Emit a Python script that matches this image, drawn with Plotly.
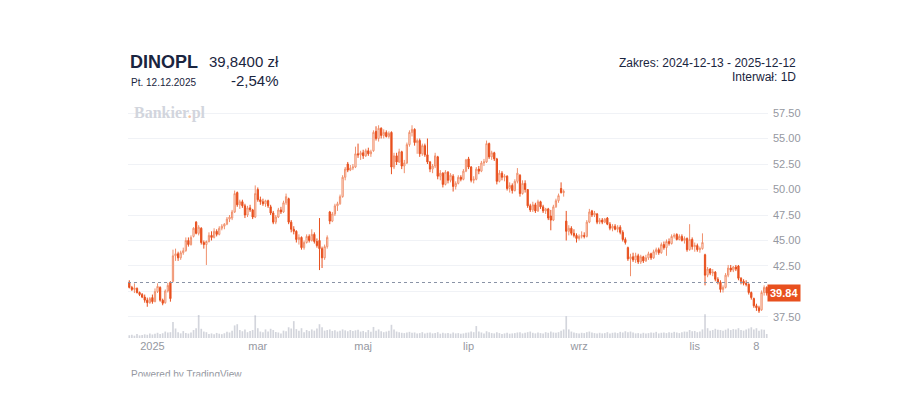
import pandas as pd
import plotly.graph_objects as go

# --- data -------------------------------------------------------------
ticker = "DINOPL"
last_price = 39.84
prev_close = 40.88
change_pct = "-2,54%"

holidays = ["2024-12-24", "2024-12-25", "2024-12-26", "2024-12-31",
            "2025-01-01", "2025-01-06", "2025-04-18", "2025-04-21",
            "2025-05-01", "2025-06-19", "2025-08-15", "2025-11-11"]
days = pd.bdate_range("2024-12-13", "2025-12-12", freq="C", holidays=holidays)
dates = [d.strftime("%Y-%m-%d") for d in days]

open_ = [
    40.90, 40.40, 40.20, 40.30, 39.90, 39.70, 39.45, 39.15, 38.90,
    39.40, 39.00, 40.00, 40.40, 39.15, 38.90, 40.05, 40.90, 41.00, 43.50,
    43.70, 43.30, 43.80, 44.00, 45.00, 44.60, 45.40, 46.80, 45.70, 46.20, 44.80,
    44.60, 44.90, 45.50, 45.30, 45.90, 45.60, 46.20, 46.40, 46.60, 47.10,
    47.20, 47.80, 49.70, 48.50, 48.80, 48.40, 47.50, 48.20, 48.00, 47.30,
    50.00, 49.00, 48.80, 48.60, 48.90, 48.30, 47.70, 46.80, 47.30, 48.00,
    47.80, 48.70, 49.10, 46.80, 46.10, 45.90, 45.10, 45.30, 44.30, 44.80, 45.40,
    45.00, 45.60, 44.90, 45.00, 44.20, 43.30, 44.40, 47.80, 46.90, 47.60,
    48.40, 48.60, 49.30, 51.20, 52.50, 51.90, 52.10, 52.20, 53.50, 53.40,
    53.60, 53.30, 53.80, 53.50, 53.80, 55.70, 55.00, 56.00, 55.30, 55.60,
    55.20, 55.60, 52.20, 53.30, 52.70, 53.70, 52.30, 52.60, 54.40, 55.60, 55.90,
    54.60, 54.80, 53.50, 54.30, 53.40, 52.70, 52.00, 52.30, 53.20, 51.30,
    51.60, 50.50, 51.70, 50.90, 51.30, 50.30, 50.60, 51.20, 51.00, 51.80,
    53.00, 52.20, 50.90, 51.00, 52.00, 51.80, 52.60, 52.70, 54.50, 53.20, 53.60,
    53.00, 50.80, 51.60, 51.20, 51.30, 50.10, 50.40, 49.90, 50.80, 51.40, 49.60,
    50.60, 50.00, 48.40, 48.00, 48.50, 47.90, 48.80, 48.30, 47.90, 48.10,
    47.40, 47.00, 48.30, 48.90, 50.10, 49.70, 46.90, 45.90, 46.20, 45.70, 45.50,
    45.20, 45.40, 45.50, 45.40, 46.80, 47.90, 47.50, 47.60, 46.80, 47.00, 46.80,
    47.20, 46.60, 46.20, 46.40, 46.10, 46.30, 45.80, 45.10, 44.30, 43.20, 43.40,
    43.10, 43.50, 42.90, 43.40, 43.00, 43.30, 43.70, 43.30, 43.90, 44.10, 43.80,
    44.60, 44.30, 44.90, 44.70, 45.40, 45.60, 45.10, 45.40, 45.00, 45.20, 44.10,
    45.10, 44.40, 44.50, 44.10, 44.20, 43.60, 41.60, 42.20, 41.80, 41.90, 41.20,
    40.90, 40.20, 40.40, 41.60, 42.30, 42.10, 42.40, 42.50, 41.30,
    41.00, 40.80, 40.70, 39.90, 39.30, 38.60, 38.40, 38.20, 39.90, 40.40,
]
high = [
    41.10, 40.55, 40.80, 40.40, 40.00, 39.85, 39.70, 39.40, 39.45,
    39.70, 40.30, 40.80, 40.50, 39.30, 40.20, 40.85, 41.00, 44.10, 44.20,
    43.90, 44.00, 44.30, 45.30, 45.30, 45.50, 46.30, 46.90, 46.50, 46.30, 45.00,
    45.00, 45.80, 45.90, 46.20, 46.10, 46.40, 46.60, 46.70, 47.30, 47.50,
    48.00, 49.90, 49.80, 49.00, 49.00, 48.60, 48.40, 48.50, 48.10, 50.40,
    50.20, 49.30, 49.10, 49.00, 49.00, 48.50, 47.90, 47.50, 48.20, 48.30,
    48.90, 49.60, 49.20, 47.00, 46.40, 46.00, 45.60, 45.40, 45.00, 45.60, 45.60,
    46.10, 45.80, 45.20, 47.20, 44.40, 44.60, 45.50, 47.90, 47.80, 48.60,
    48.80, 49.50, 51.40, 52.20, 52.70, 52.40, 52.50, 54.20, 54.50, 53.80,
    53.90, 54.00, 54.10, 53.90, 55.80, 56.20, 56.30, 56.10, 55.90, 55.80,
    55.70, 55.70, 53.60, 53.60, 54.00, 53.80, 52.90, 54.60, 55.80, 56.30, 56.00,
    55.00, 55.00, 54.50, 54.50, 55.00, 52.80, 52.50, 53.60, 53.30, 51.90,
    51.70, 51.90, 51.80, 51.60, 51.50, 50.80, 51.40, 51.40, 52.00, 53.00,
    53.20, 52.30, 51.30, 52.20, 52.30, 52.80, 53.00, 54.80, 54.60, 53.80, 53.70,
    53.10, 51.90, 51.80, 51.50, 51.40, 50.70, 50.60, 51.00, 52.10, 51.50, 50.90,
    50.90, 50.00, 48.60, 48.80, 48.70, 49.00, 48.90, 48.50, 48.20, 48.20,
    48.00, 48.50, 49.10, 49.60, 50.70, 50.00, 47.90, 46.50, 46.40, 46.10, 45.70,
    45.60, 45.90, 45.80, 47.00, 48.10, 48.00, 47.90, 47.70, 47.20, 47.20, 47.20,
    47.30, 46.80, 46.60, 46.60, 46.50, 46.50, 46.00, 45.30, 44.40, 43.70, 43.80,
    43.80, 43.70, 43.60, 43.50, 43.60, 43.90, 43.80, 44.10, 44.30, 44.30, 44.80,
    44.90, 45.10, 45.20, 45.60, 45.70, 45.70, 45.60, 45.60, 45.40, 45.30, 46.60,
    45.30, 44.80, 44.70, 44.40, 45.70, 43.70, 42.40, 42.30, 42.20, 42.00,
    41.40, 41.10, 40.60, 41.80, 42.60, 42.60, 42.50, 42.60, 42.60, 41.40,
    41.20, 41.10, 40.80, 40.00, 39.40, 38.80, 38.60, 40.10, 40.60, 40.50,
]
low = [
    40.30, 40.05, 39.85, 39.80, 39.55, 39.35, 38.90, 38.50, 38.80,
    38.80, 38.95, 39.85, 39.00, 38.65, 38.80, 39.90, 39.00, 40.90, 43.00,
    43.00, 43.10, 43.60, 43.90, 44.40, 44.50, 45.30, 45.60, 45.50, 44.60, 44.20,
    42.60, 44.80, 45.00, 45.20, 45.40, 45.50, 46.00, 46.10, 46.50, 46.80,
    47.00, 47.70, 48.30, 48.10, 48.20, 47.20, 47.30, 47.80, 47.10, 47.20,
    48.80, 48.50, 48.40, 48.30, 48.20, 47.50, 46.60, 46.60, 47.20, 47.60,
    47.70, 48.50, 46.60, 45.80, 45.60, 44.80, 44.60, 44.10, 44.10, 44.70, 44.80,
    44.90, 44.70, 44.30, 42.10, 42.30, 43.10, 44.20, 46.60, 46.80, 47.40,
    47.90, 48.50, 49.20, 50.90, 51.70, 51.80, 51.90, 52.10, 53.10, 52.90,
    53.00, 53.20, 53.30, 53.20, 53.70, 54.80, 54.70, 55.00, 55.00, 55.10,
    55.00, 51.50, 52.00, 52.40, 52.60, 52.00, 51.60, 52.50, 54.20, 55.20, 54.30,
    53.50, 53.20, 53.30, 53.20, 52.50, 51.70, 51.60, 52.10, 51.00, 50.90,
    50.20, 50.40, 50.60, 50.70, 49.80, 50.00, 50.50, 50.80, 50.90, 51.70,
    52.00, 50.70, 50.60, 50.90, 51.50, 51.70, 52.30, 52.60, 53.00, 52.90, 52.80,
    50.50, 50.70, 50.90, 50.80, 49.90, 49.70, 49.60, 49.80, 50.60, 49.30, 49.50,
    49.70, 48.20, 47.80, 47.80, 47.70, 47.80, 48.10, 47.70, 47.60, 47.00,
    46.00, 46.90, 48.20, 48.70, 49.60, 49.30, 45.00, 45.50, 45.50, 45.30, 44.80,
    45.00, 45.20, 45.20, 45.30, 46.70, 47.30, 47.30, 46.60, 46.60, 46.60, 46.70,
    46.50, 46.00, 45.90, 46.00, 45.80, 45.60, 44.90, 44.60, 43.00, 41.50, 42.90,
    42.80, 42.70, 42.70, 42.80, 42.90, 43.10, 43.10, 43.20, 43.60, 43.60, 43.70,
    44.10, 43.50, 44.50, 44.60, 45.20, 45.00, 45.00, 44.90, 44.70, 43.90, 44.00,
    44.10, 43.90, 43.90, 43.80, 44.10, 40.60, 41.40, 41.60, 41.50, 41.00,
    40.70, 39.90, 39.90, 40.30, 41.40, 41.90, 41.90, 42.00, 41.10, 40.70,
    40.60, 40.50, 39.70, 39.20, 38.40, 38.10, 37.90, 38.10, 39.60, 39.60,
]
close = [
    40.40, 40.20, 40.35, 39.90, 39.70, 39.45, 39.15, 38.90, 39.30,
    39.00, 40.00, 40.50, 39.15, 38.85, 40.05, 40.60, 39.30, 43.50, 43.70,
    43.30, 43.80, 44.00, 45.00, 44.60, 45.30, 46.20, 45.70, 46.30, 44.80, 44.60,
    44.90, 45.50, 45.30, 45.90, 45.60, 46.20, 46.40, 46.60, 47.10, 47.30,
    47.80, 49.60, 48.50, 48.80, 48.40, 47.50, 48.20, 48.00, 47.30, 49.60,
    49.00, 48.80, 48.60, 48.90, 48.40, 47.70, 46.80, 47.30, 48.00, 47.80,
    48.70, 49.30, 46.80, 46.10, 45.90, 45.10, 45.30, 44.30, 44.80, 45.40, 45.00,
    45.60, 44.90, 44.50, 44.20, 43.30, 44.40, 45.30, 46.90, 47.60, 48.40,
    48.60, 49.30, 51.20, 52.00, 51.90, 52.10, 52.20, 53.50, 53.40, 53.60,
    53.30, 53.80, 53.50, 53.70, 55.60, 55.00, 56.00, 55.30, 55.60, 55.20,
    55.50, 52.20, 53.30, 52.70, 53.70, 52.30, 52.60, 54.40, 55.60, 55.90, 54.60,
    54.80, 53.50, 54.30, 53.40, 52.70, 52.00, 52.30, 53.30, 51.30, 51.60,
    50.50, 51.70, 50.90, 51.40, 50.30, 50.60, 51.20, 51.00, 51.80, 52.90,
    52.20, 50.90, 51.00, 52.00, 51.80, 52.60, 52.70, 54.50, 53.20, 53.60, 53.00,
    50.80, 51.60, 51.20, 51.30, 50.10, 50.40, 49.90, 50.80, 51.60, 49.60, 50.60,
    50.00, 48.40, 48.00, 48.50, 47.90, 48.80, 48.30, 47.90, 48.10, 47.20,
    47.00, 48.30, 48.90, 49.40, 49.70, 49.80, 45.90, 46.20, 45.70, 45.50, 45.20,
    45.40, 45.50, 45.40, 46.80, 47.80, 47.50, 47.70, 46.80, 47.00, 46.80, 47.10,
    46.60, 46.20, 46.40, 46.10, 46.30, 45.80, 45.10, 44.80, 43.20, 43.40, 43.10,
    43.50, 42.90, 43.40, 43.00, 43.30, 43.70, 43.30, 43.90, 44.10, 43.80, 44.60,
    44.30, 44.90, 44.70, 45.40, 45.50, 45.10, 45.40, 45.00, 45.20, 44.10, 45.10,
    44.40, 44.50, 44.10, 44.20, 44.80, 41.60, 42.20, 41.80, 41.90, 41.20,
    40.90, 40.20, 40.40, 41.60, 42.30, 42.10, 42.40, 42.20, 41.30, 41.00,
    40.80, 40.70, 39.90, 39.40, 38.60, 38.40, 38.10, 39.90, 40.40, 39.84,
]
volume = [
    180, 220, 150, 260, 170, 190, 240, 210, 300,
    230, 280, 340, 260, 310, 420, 360, 380, 1050, 620,
    380, 300, 450, 330, 290, 360, 520, 640, 1500, 600, 420,
    380, 260, 300, 240, 330, 280, 250, 310, 400, 360,
    470, 820, 900, 520, 440, 560, 380, 460, 520, 1480,
    640, 420, 380, 560, 430, 600, 520, 390, 360, 300,
    480, 440, 700, 620, 1100, 580, 480, 640, 380, 520, 450,
    560, 480, 620, 900, 700, 480, 520, 560, 460, 500,
    420, 480, 560, 500, 440, 520, 460, 500, 540, 420,
    460, 380, 520, 400, 720, 480, 560, 440, 380, 420,
    480, 860, 560, 420, 380, 340, 320, 360, 400, 340, 360,
    300, 320, 380, 300, 340, 360, 300, 320, 380, 280,
    340, 300, 320, 280, 360, 300, 320, 280, 300, 340,
    360, 420, 380, 780, 420, 360, 300, 440, 380, 320, 300,
    380, 320, 260, 300, 340, 280, 300, 320, 360, 380, 300,
    340, 380, 420, 340, 300, 360, 320, 300, 380, 340,
    420, 360, 340, 380, 480, 560, 1420, 560, 420, 360, 320,
    300, 340, 320, 380, 420, 360, 320, 300, 340, 300, 320,
    380, 300, 340, 360, 320, 400, 360, 440, 380, 420, 360,
    300, 320, 280, 340, 300, 320, 360, 340, 400, 300, 340,
    360, 320, 380, 340, 400, 360, 320, 380, 420, 400, 520,
    440, 460, 380, 420, 560, 1550, 640, 480, 520, 600,
    540, 520, 480, 540, 620, 520, 580, 560, 640, 520,
    480, 560, 620, 700, 560, 640, 480, 560, 540, 260,
]

tick_dates = ["2025-01-02", "2025-03-03", "2025-05-02", "2025-07-01",
              "2025-09-01", "2025-11-03", "2025-12-08"]
tick_labels = ["2025", "mar", "maj", "lip", "wrz", "lis", "8"]
price_ticks = [37.5, 40.0, 42.5, 45.0, 47.5, 50.0, 52.5, 55.0, 57.5]

# --- layout (page pixels; the page body has an 8px margin) -------------
OFF = 8
W, H = 898 - OFF, 408 - OFF
L, R, T, B = 120, 130, 92, 70
pw, ph = W - L - R, H - T - B


def px(x):
    return (x - OFF - L) / pw


def py(y):
    return (H - B - (y - OFF)) / ph


ORANGE = "#e8501e"
GREY = "#9598a1"
NAVY = "#1a2540"
FONT = "Liberation Sans, Arial, sans-serif"

fig = go.Figure()

fig.add_trace(go.Bar(
    x=dates, y=volume, yaxis="y2",
    marker=dict(color="rgba(150,156,172,0.42)", line_width=0),
    hoverinfo="skip", showlegend=False,
))

fig.add_trace(go.Candlestick(
    x=dates, open=open_, high=high, low=low, close=close,
    increasing=dict(line=dict(color="#f0906c", width=1), fillcolor="#ffffff"),
    decreasing=dict(line=dict(color=ORANGE, width=1), fillcolor=ORANGE),
    whiskerwidth=0, showlegend=False,
))

# previous close line
fig.add_shape(type="line", xref="paper", x0=0, x1=1, yref="y",
              y0=prev_close, y1=prev_close,
              line=dict(color="#8a93a6", width=1, dash="dot"))

ann = [
    dict(x=px(128), y=py(62), text="<b>" + ticker + "</b>", xanchor="left",
         font=dict(size=18, color=NAVY)),
    dict(x=px(129), y=py(82), text="Pt. 12.12.2025", xanchor="left",
         font=dict(size=10, color=NAVY)),
    dict(x=px(281), y=py(62), text="39,8400 zł", xanchor="right",
         font=dict(size=15, color=NAVY)),
    dict(x=px(281), y=py(80), text=change_pct, xanchor="right",
         font=dict(size=15, color=NAVY)),
    dict(x=px(798), y=py(63), text="Zakres: 2024-12-13 - 2025-12-12",
         xanchor="right", font=dict(size=12, color=NAVY)),
    dict(x=px(798), y=py(77), text="Interwał: 1D", xanchor="right",
         font=dict(size=12, color=NAVY)),
    dict(x=px(132), y=py(113),
         text="<b>Bankier<span style='color:#f4c2a2'>.</span>pl</b>",
         xanchor="left",
         font=dict(size=16, color="#d2d5dd",
                   family="Liberation Serif, Times New Roman, serif")),
    dict(x=px(767), yref="y", y=last_price, text="<b>39.84</b>", xanchor="left",
         bgcolor=ORANGE, borderpad=2, font=dict(size=11, color="white")),
    dict(x=px(129), y=py(374), text="Powered by TradingView", xanchor="left",
         font=dict(size=10, color=GREY)),
    # the reference page cuts this footer in half
    dict(x=px(126), y=py(380), text=" ", xanchor="left", width=140, height=7,
         bgcolor="white", borderpad=0, font=dict(size=6)),
]
for a in ann:
    a.setdefault("xref", "paper")
    a.setdefault("yref", "paper")
    a.setdefault("showarrow", False)
    a.setdefault("yanchor", "middle")
fig.update_layout(annotations=ann)

p_top = 57.5 + (113 - OFF - T) / 10.19
p_bot = 37.5 - (H - B - (317 - OFF)) / 10.19

fig.update_layout(
    width=W, height=H,
    margin=dict(l=L, r=R, t=T, b=B),
    paper_bgcolor="white", plot_bgcolor="white",
    font=dict(family=FONT, color=GREY),
    bargap=0.35,
    showlegend=False,
    xaxis=dict(type="category", range=[-0.5, len(dates) - 0.5],
               tickvals=tick_dates, ticktext=tick_labels,
               showgrid=False, zeroline=False, showline=False, ticks="",
               tickfont=dict(size=11, color=GREY),
               rangeslider=dict(visible=False)),
    yaxis=dict(side="right", range=[p_bot, p_top], tickvals=price_ticks,
               ticktext=["" if v == 40.0 else "%.2f" % v for v in price_ticks],
               tickfont=dict(size=11, color=GREY), gridcolor="#f0f2f6",
               zeroline=False, showline=False, ticks="", ticklabelstandoff=4),
    yaxis2=dict(overlaying="y", range=[0, 1500 * ph / 23], visible=False),
)

fig.write_html("out.html")
